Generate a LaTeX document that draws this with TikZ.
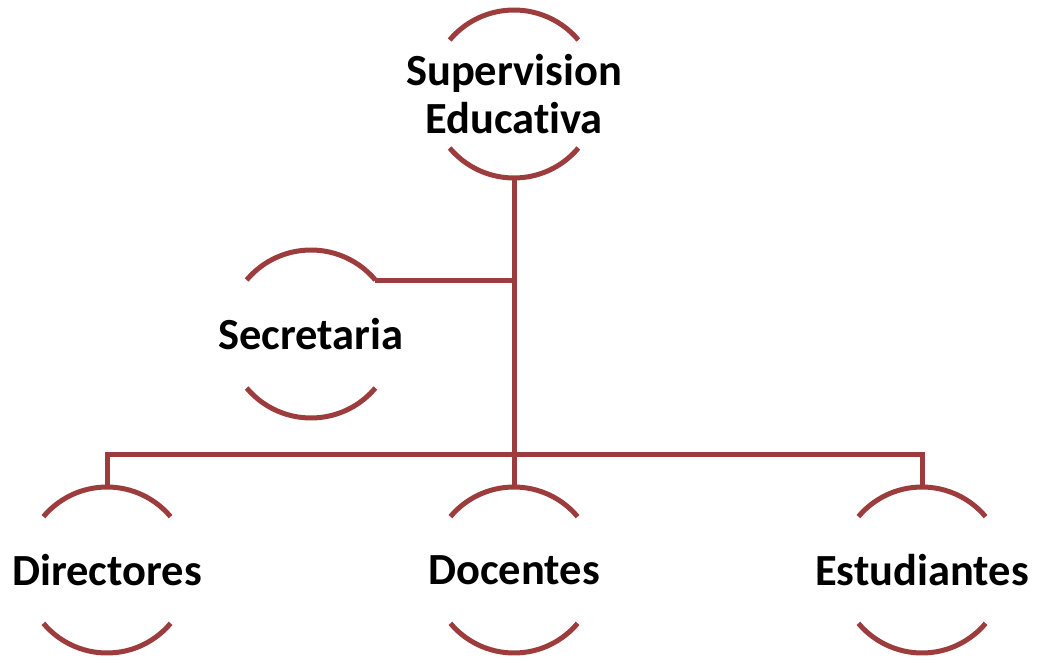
\documentclass[tikz,border=0pt]{standalone}
\usepackage{fontspec}
\setmainfont{Carlito}[Ligatures=NoCommon]
\definecolor{lineRed}{RGB}{156,60,60}
\tikzset{
  conn/.style={draw=lineRed, line width=5pt},
  arcline/.style={draw=lineRed, line width=5pt},
  lbl/.style={font=\bfseries\fontsize{44.5}{48}\selectfont, text=black, align=center, inner sep=0pt}
}
\begin{document}
\begin{tikzpicture}[x=1pt,y=1pt]
\useasboundingbox (0,0) rectangle (1039,662);
% nodes
\node[lbl] (top) at (514,568) {Supervision\\Educativa};
\node[lbl] (sec) at (311,328) {Secretaria};
\node[lbl] (dir) at (107,92) {Directores};
\node[lbl] (doc) at (514,92) {Docentes};
\node[lbl] (est) at (922,92) {Estudiantes};
% arcs
\foreach \n/\r in {top/84,sec/84,dir/83,doc/83,est/83}{
  \draw[arcline] ([shift={(40:\r)}]\n.center) arc[start angle=40,end angle=140,radius=\r];
  \draw[arcline] ([shift={(220:\r)}]\n.center) arc[start angle=220,end angle=320,radius=\r];
}
\coordinate (bar) at (514,207);
\coordinate (secR) at ([shift={(40:84)}]sec.center);
\coordinate (topB) at ([shift={(270:84)}]top.center);
\coordinate (dirT) at ([shift={(90:83)}]dir.center);
\coordinate (docT) at ([shift={(90:83)}]doc.center);
\coordinate (estT) at ([shift={(90:83)}]est.center);
% connectors
\draw[conn] (topB) -- (bar);
\draw[conn] (secR) -- (secR -| topB);
\draw[conn] (dirT) |- (bar) -| (estT);
\draw[conn] (docT) -- (bar);
\end{tikzpicture}
\end{document}
